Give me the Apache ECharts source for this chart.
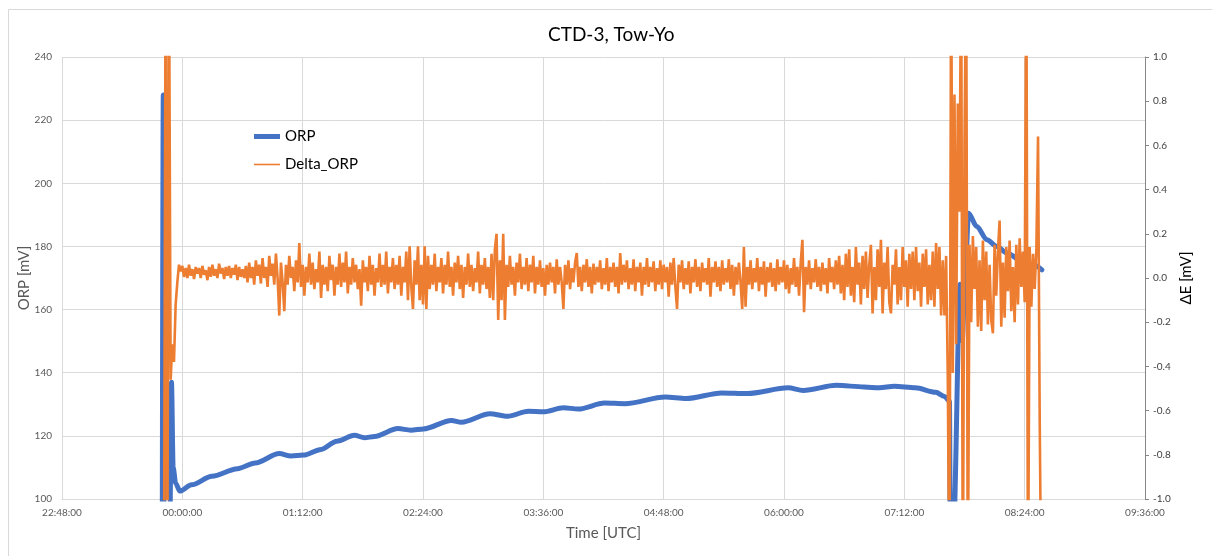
<!DOCTYPE html>
<html>
<head>
<meta charset="utf-8">
<title>CTD-3, Tow-Yo</title>
<script src="https://cdn.jsdelivr.net/npm/echarts@6/dist/echarts.min.js"></script>
<style>
  html, body { margin: 0; padding: 0; background: #fff; }
  #chart { width: 1212px; height: 556px; }
</style>
</head>
<body>
<div id="chart"></div>
<script>
// time is in minutes after 00:00 UTC (negative = before midnight)
const xTicks = ['22:48:00', '00:00:00', '01:12:00', '02:24:00', '03:36:00', '04:48:00', '06:00:00', '07:12:00', '08:24:00', '09:36:00']
const xMin = -72
const xMax = 576
const xStep = 72

// ORP [mV], left axis
const orpTimes = [
  -12, -11.4, -11.0, -7.5, -6.5, -5.5, -4, -1.5, 5.5, 17.7,
  33, 43.6, 58, 65, 72.6, 83, 92.4, 103, 109, 115,
  129, 136.7, 144.3, 161, 167, 184, 194.6, 207, 216, 228,
  237, 252.6, 264.8, 289, 301.4, 322.7, 338, 362.4, 371.5, 391.3,
  408, 417, 426, 438.6, 450.8, 456, 459, 459.5, 461.4, 465.4,
  466.6, 468.5, 470.4, 475.4, 481.4, 487.4, 493.4, 501.3, 509.3, 514.3
]
const orpValues = [
  90, 228, 90, 90, 137, 110, 105, 102.5, 104.5, 107.2,
  109.6, 111.4, 114.4, 113.6, 113.9, 115.7, 118.3, 120.2, 119.4, 119.8,
  122.3, 121.8, 122.2, 124.9, 124.3, 127, 126.2, 127.8, 127.6, 128.9,
  128.5, 130.4, 130.2, 132.3, 131.8, 133.6, 133.4, 135.2, 134.4, 136,
  135.5, 135.2, 135.7, 135.2, 133.8, 132.5, 131, 90, 90, 168,
  150, 172, 190.5, 186.3, 182.1, 180, 177.9, 175.8, 174.2, 172.6
]

// Delta_ORP [mV], right axis, one reading per minute from deltaStart
const deltaStart = -11
const deltaStep = 1
const deltaValues = [
  -1.5, 1.5, -1.5, 1.5, -0.46, -0.3, -0.38, -0.12, -0.02, 0.06,
  0.03, 0.055, 0.005, 0.045, 0.0, 0.06, 0.01, 0.04, -0.005, 0.05,
  0.02, 0.045, 0.0, 0.055, 0.015, 0.035, -0.01, 0.05, 0.005, 0.06,
  0.01, 0.04, 0.0, 0.065, 0.02, 0.045, -0.005, 0.05, 0.01, 0.055,
  0.0, 0.045, 0.015, 0.06, -0.01, 0.05, 0.005, 0.04, 0.0, 0.055,
  -0.02, 0.07, 0.0, 0.05, -0.03, 0.08, 0.01, 0.06, -0.025, 0.09,
  0.0, 0.05, -0.04, 0.1, 0.01, 0.065, -0.03, 0.11, 0.0, -0.17,
  0.07, -0.02, -0.15, 0.06, -0.03, 0.1, 0.0, 0.05, -0.06, 0.08,
  -0.02, 0.158, -0.04, 0.06, -0.08, 0.05, -0.02, 0.11, -0.03, 0.07,
  -0.05, 0.04, -0.02, 0.12, -0.09, 0.06, -0.03, 0.05, -0.06, 0.1,
  -0.01, 0.06, -0.08, 0.05, -0.03, 0.11, -0.04, 0.07, -0.02, 0.12,
  -0.07, 0.05, -0.03, 0.09, -0.02, 0.06, -0.05, 0.04, -0.125, 0.08,
  -0.02, 0.05, -0.06, 0.1, -0.03, 0.06, -0.08, 0.045, -0.02, 0.11,
  -0.04, 0.06, -0.03, 0.12, -0.07, 0.05, -0.02, 0.09, -0.05, 0.06,
  -0.03, 0.1, -0.08, 0.05, -0.02, 0.12, -0.1, 0.143, -0.04, -0.14,
  0.08, -0.03, 0.143, -0.1, 0.06, -0.12, 0.143, -0.14, 0.1, -0.05,
  0.06, -0.03, 0.11, -0.06, 0.05, -0.02, 0.09, -0.07, 0.06, -0.03,
  0.12, -0.04, 0.05, -0.08, 0.07, -0.02, 0.1, -0.05, 0.06, -0.09,
  0.05, -0.03, 0.11, -0.04, 0.06, -0.06, 0.045, -0.02, 0.12, -0.07,
  0.06, -0.03, 0.09, -0.05, 0.05, -0.09, 0.11, -0.1, 0.13, 0.2,
  -0.19, 0.08, -0.1, 0.2, -0.19, 0.06, -0.04, 0.1, -0.03, 0.05,
  -0.08, 0.07, -0.02, 0.11, -0.05, 0.05, -0.03, 0.09, -0.06, 0.06,
  -0.02, 0.1, -0.07, 0.05, -0.03, 0.08, -0.04, 0.045, -0.08, 0.06,
  -0.03, 0.07, -0.02, 0.05, -0.07, 0.085, -0.03, 0.05, -0.02, -0.14,
  0.06, -0.03, 0.08, -0.05, 0.045, -0.02, 0.07, 0.113, -0.04, 0.05,
  -0.06, 0.06, -0.02, 0.085, -0.04, 0.05, -0.07, 0.065, -0.03, 0.05,
  -0.02, 0.08, -0.05, 0.045, -0.03, 0.09, -0.06, 0.05, -0.02, 0.07,
  -0.04, 0.05, -0.07, 0.113, -0.03, 0.06, -0.02, 0.08, -0.05, 0.045,
  -0.03, 0.085, -0.06, 0.05, -0.02, 0.07, -0.08, 0.05, -0.03, 0.09,
  -0.04, 0.05, -0.02, 0.075, -0.06, 0.045, -0.03, 0.08, -0.05, 0.06,
  -0.02, 0.05, -0.085, 0.07, -0.03, 0.09, -0.04, -0.14, 0.06, -0.02,
  0.08, -0.05, 0.045, -0.03, 0.075, -0.07, 0.05, -0.02, 0.085, -0.04,
  0.05, -0.06, 0.07, -0.02, 0.045, -0.03, 0.09, -0.085, 0.05, -0.02,
  0.075, -0.04, 0.05, -0.06, 0.08, -0.03, 0.045, -0.02, 0.085, -0.05,
  0.06, -0.08, 0.05, -0.03, 0.07, -0.02, -0.14, 0.14, -0.13, 0.05,
  -0.03, 0.08, -0.05, 0.045, -0.02, 0.09, -0.06, 0.05, -0.03, 0.075,
  -0.085, 0.05, -0.02, 0.07, -0.04, 0.045, -0.06, 0.085, -0.03, 0.05,
  -0.02, 0.08, -0.05, 0.06, -0.07, 0.045, -0.03, 0.09, -0.04, 0.05,
  -0.08, 0.07, 0.173, -0.155, 0.05, -0.03, 0.08, -0.05, 0.045, -0.02,
  0.085, -0.04, 0.05, -0.06, 0.07, -0.03, 0.045, -0.07, 0.09, -0.02,
  0.05, -0.05, 0.08, -0.03, 0.1, -0.07, 0.06, -0.1, 0.11, -0.04,
  0.13, -0.08, 0.05, -0.11, 0.14, -0.03, 0.07, -0.12, 0.1, -0.05,
  0.12, -0.09, 0.06, 0.15, -0.16, 0.05, -0.1, 0.13, -0.04, 0.173,
  -0.16, 0.07, -0.05, 0.14, -0.11, -0.16, 0.06, -0.03, 0.13, -0.12,
  0.05, -0.1, 0.14, -0.04, 0.08, -0.13, 0.11, -0.05, 0.12, -0.1,
  0.14, -0.06, 0.07, -0.13, 0.11, -0.04, 0.13, -0.12, 0.06, -0.1,
  0.12, -0.13, 0.158, -0.05, 0.14, -0.17, 0.08, -0.17, 0.1, -0.45,
  -1.5, 1.5, -0.43, 0.83, -0.3, 0.79, 0.3, 1.5, -1.5, 0.6,
  1.5, -1.5, 0.15, -0.2, 0.19, -0.05, 0.14, -0.22, 0.08, -0.24,
  0.17, -0.1, 0.12, -0.21, 0.06, -0.19, -0.25, 0.15, -0.08, 0.12,
  0.26, -0.22, 0.07, -0.18, 0.14, -0.06, 0.17, -0.15, 0.05, -0.2,
  0.15, -0.12, 0.18, -0.04, 0.12, -0.11, 1.5, -1.5, 0.14, -0.13,
  0.11, -0.05, 0.13, 0.64, -0.64, -1.5
]

const orpData = orpTimes.map((t, i) => [t, orpValues[i]])
const deltaData = deltaValues.map((v, i) => [deltaStart + i * deltaStep, v])

const fontFamily = 'Lato, "Liberation Sans", sans-serif'

const myChart = echarts.init(document.getElementById('chart'))
const option = {
  animation: false,
  textStyle: { fontFamily: fontFamily },
  graphic: [
    {
      type: 'rect',
      shape: { x: 8.5, y: 9.5, width: 1220, height: 560 },
      style: { fill: 'none', stroke: '#d9d9d9', lineWidth: 1 },
      silent: true,
      z: -1,
    },
    // axis titles
    {
      type: 'text',
      x: 24,
      y: 278,
      rotation: Math.PI / 2,
      style: { text: 'ORP [mV]', fill: '#595959', font: '15px ' + fontFamily, align: 'center', verticalAlign: 'middle' },
      silent: true,
    },
    {
      type: 'text',
      x: 1186,
      y: 278,
      rotation: Math.PI / 2,
      style: { text: 'ΔE [mV]', fill: '#000', font: '15px ' + fontFamily, align: 'center', verticalAlign: 'middle' },
      silent: true,
    },
  ],
  title: {
    text: 'CTD-3, Tow-Yo',
    left: 543,
    top: 20,
    textStyle: { fontFamily: fontFamily, fontSize: 19, fontWeight: 'normal', color: '#000' },
  },
  legend: {
    orient: 'vertical',
    left: 249,
    top: 124,
    itemWidth: 26,
    itemHeight: 14,
    itemGap: 13,
    textStyle: { fontFamily: fontFamily, fontSize: 15, color: '#000' },
    data: [
      { name: 'ORP', icon: 'path://M0,0L26,0L26,5L0,5Z' },
      { name: 'Delta_ORP', icon: 'path://M0,0L26,0L26,1.6L0,1.6Z' },
    ],
  },
  grid: {
    left: 62,
    right: 67,
    top: 57,
    bottom: 57,
  },
  xAxis: {
    type: 'value',
    min: xMin,
    max: xMax,
    interval: xStep,
    name: 'Time [UTC]',
    nameLocation: 'middle',
    nameGap: 27,
    nameTextStyle: { fontSize: 15, color: '#595959' },
    axisLine: { show: true, onZero: false, lineStyle: { color: '#d9d9d9' } },
    axisTick: { show: false },
    axisLabel: {
      fontSize: 10,
      color: '#595959',
      margin: 9,
      formatter: (v) => xTicks[Math.round((v - xMin) / xStep)],
    },
    splitLine: { show: true, lineStyle: { color: '#d9d9d9' } },
  },
  yAxis: [
    {
      type: 'value',
      min: 100,
      max: 240,
      interval: 20,
      axisLine: { show: false },
      axisTick: { show: false },
      axisLabel: { fontSize: 10, color: '#595959', margin: 10 },
      splitLine: { show: true, lineStyle: { color: '#d9d9d9' } },
    },
    {
      type: 'value',
      min: -1,
      max: 1,
      interval: 0.2,
      axisLine: { show: true, lineStyle: { color: '#868686' } },
      axisTick: { show: true, inside: false, length: 4, lineStyle: { color: '#868686' } },
      axisLabel: {
        fontSize: 10,
        color: '#404040',
        margin: 8,
        formatter: (v) => (Math.abs(v) < 1e-9 ? 0 : v).toFixed(1),
      },
      splitLine: { show: false },
    },
  ],
  series: [
    {
      name: 'ORP',
      type: 'line',
      yAxisIndex: 0,
      data: orpData,
      symbol: 'none',
      smooth: 0.3,
      smoothMonotone: 'x',
      clip: true,
      z: 2,
      lineStyle: { color: '#4472c4', width: 5, cap: 'round', join: 'round' },
      itemStyle: { color: '#4472c4' },
    },
    {
      name: 'Delta_ORP',
      type: 'line',
      yAxisIndex: 1,
      data: deltaData,
      symbol: 'none',
      clip: true,
      z: 3,
      lineStyle: { color: '#ed7d31', width: 2.6 },
      itemStyle: { color: '#ed7d31' },
    },
  ],
}
myChart.setOption(option)
</script>
</body>
</html>
